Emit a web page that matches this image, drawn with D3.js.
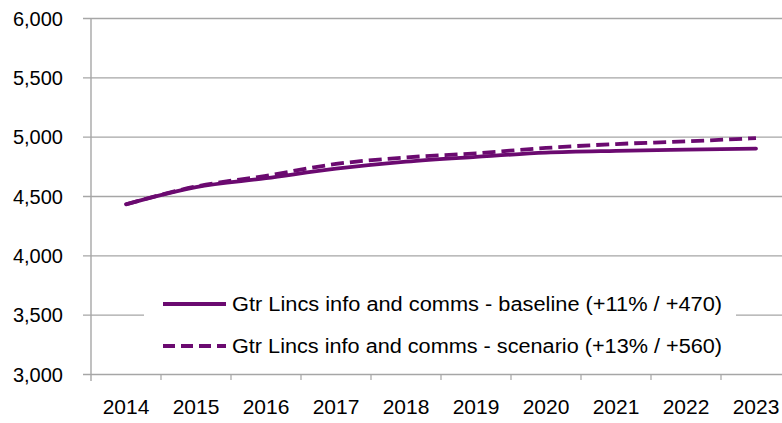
<!DOCTYPE html>
<html>
<head>
<meta charset="utf-8">
<script src="https://cdn.jsdelivr.net/npm/d3@7"></script>
<style>
  body { margin: 0; background: #fff; }
  text { font-family: "Liberation Sans", Arial, sans-serif; fill: #000; }
</style>
</head>
<body>
<div id="chart"></div>
<script>
// data
var years = ["2014", "2015", "2016", "2017", "2018", "2019", "2020", "2021", "2022", "2023"];
var baseline = [4430, 4575, 4650, 4730, 4790, 4830, 4865, 4880, 4890, 4900];
var scenario = [4430, 4580, 4670, 4770, 4825, 4860, 4905, 4938, 4960, 4988];
var yTicks = [3000, 3500, 4000, 4500, 5000, 5500, 6000];
var seriesNames = [
  "Gtr Lincs info and comms - baseline (+11% / +470)",
  "Gtr Lincs info and comms - scenario (+13% / +560)"
];

var svgWidth = 782;
var svgHeight = 423;
var margin = { top: 18, left: 91 };
var plotW = 700;
var plotH = 356;
var purple = "#6b0a70";
var grey = "#a6a6a6";

var svg = d3.select("#chart")
  .append("svg")
  .attr("width", svgWidth)
  .attr("height", svgHeight);

var chartGroup = svg.append("g")
  .attr("transform", `translate(${margin.left}, ${margin.top})`);

// scales
var xBand = d3.scaleBand()
  .domain(years)
  .range([0, plotW])
  .padding(0);

var yLinearScale = d3.scaleLinear()
  .domain([3000, 6000])
  .range([plotH, 0]);

// gridlines (with a short stub left of the axis)
var grid = chartGroup.append("g")
  .attr("transform", "translate(-8,0)")
  .call(d3.axisRight(yLinearScale).tickValues(yTicks).tickSize(plotW + 8).tickFormat(""));
grid.select(".domain").remove();
grid.selectAll("line").attr("stroke", grey).attr("stroke-width", 1.4);

// y labels
var yAxis = chartGroup.append("g")
  .call(d3.axisLeft(yLinearScale).tickValues(yTicks).tickSize(0).tickPadding(28)
    .tickFormat(d3.format(",")));
yAxis.select(".domain").remove();
yAxis.selectAll("text")
  .attr("font-size", 20)
  .attr("dy", "0.36em")
  .attr("fill", "#000")
  .style("font-family", "Liberation Sans, Arial, sans-serif");

// y axis line
chartGroup.append("line")
  .attr("x1", 0).attr("x2", 0)
  .attr("y1", 0).attr("y2", plotH + 7)
  .attr("stroke", grey)
  .attr("stroke-width", 1.4);

// x axis: boundary ticks + centred labels
var boundaries = years.map(d => xBand(d)).concat([plotW]);
chartGroup.selectAll(".xtick")
  .data(boundaries.slice(1))
  .enter()
  .append("line")
  .attr("class", "xtick")
  .attr("x1", d => d).attr("x2", d => d)
  .attr("y1", plotH).attr("y2", plotH + 6)
  .attr("stroke", grey)
  .attr("stroke-width", 1.2);

var xAxis = chartGroup.append("g")
  .attr("transform", `translate(0, ${plotH})`)
  .call(d3.axisBottom(xBand).tickSize(0).tickPadding(25));
xAxis.select(".domain").remove();
xAxis.selectAll("text")
  .attr("font-size", 21)
  .attr("fill", "#000")
  .style("font-family", "Liberation Sans, Arial, sans-serif");

// lines
var line = d3.line()
  .x((d, i) => xBand(years[i]) + xBand.bandwidth() / 2)
  .y(d => yLinearScale(d))
  .curve(d3.curveMonotoneX);

chartGroup.append("path")
  .datum(baseline)
  .attr("fill", "none")
  .attr("stroke", purple)
  .attr("stroke-width", 3.8)
  .attr("stroke-linecap", "round")
  .attr("d", line);

chartGroup.append("path")
  .datum(scenario)
  .attr("fill", "none")
  .attr("stroke", purple)
  .attr("stroke-width", 3.8)
  .attr("stroke-dasharray", "13,6")
  .attr("d", line);

// legend
var legend = svg.append("g");
legend.append("rect")
  .attr("x", 144).attr("y", 282)
  .attr("width", 592).attr("height", 84)
  .attr("fill", "#fff");

var legendY = [304, 346];
var legendDash = [null, "12,6"];
seriesNames.forEach(function(name, i) {
  legend.append("line")
    .attr("x1", 163).attr("x2", 226)
    .attr("y1", legendY[i]).attr("y2", legendY[i])
    .attr("stroke", purple)
    .attr("stroke-width", 3.8)
    .attr("stroke-dasharray", legendDash[i]);
  legend.append("text")
    .attr("x", 232)
    .attr("y", legendY[i] + 7)
    .attr("font-size", 20)
    .attr("textLength", 490)
    .attr("lengthAdjust", "spacingAndGlyphs")
    .text(name);
});
</script>
</body>
</html>
